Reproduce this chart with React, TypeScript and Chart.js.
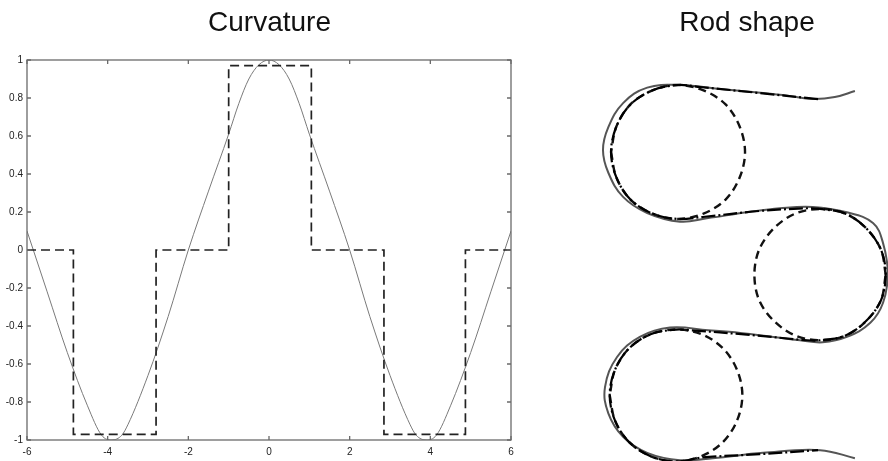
import React, { useEffect, useRef } from "react";
import { Chart, registerables } from "chart.js";

Chart.register(...registerables);

// ---------- Curvature panel ----------
const curvatureX = [-6, -5.5, -5, -4.5, -4.15, -3.9, -3.65, -3.5, -3, -2.5, -2, -1.5, -1, -0.75, -0.5, -0.25, 0, 0.25, 0.5, 0.75, 1, 1.5, 2, 2.5, 3, 3.5, 3.65, 3.9, 4.15, 4.5, 5, 5.5, 6];
const curvatureY = [0.1, -0.22, -0.54, -0.82, -0.975, -1.0, -0.975, -0.92, -0.66, -0.35, 0.0, 0.31, 0.61, 0.77, 0.9, 0.975, 1.0, 0.975, 0.9, 0.77, 0.61, 0.31, 0.0, -0.35, -0.66, -0.92, -0.975, -1.0, -0.975, -0.82, -0.54, -0.22, 0.1];

const stepEdges = [-6, -4.85, -2.8, -1.0, 1.05, 2.85, 4.87, 6];
const stepLevels = [0, -0.97, 0, 0.97, 0, -0.97, 0, 0];

const xTickValues = [-6, -4, -2, 0, 2, 4, 6];
const yTickValues = [-1, -0.8, -0.6, -0.4, -0.2, 0, 0.2, 0.4, 0.6, 0.8, 1];

// ---------- Rod shape panel (units: loop radius, origin at first loop centre) ----------
const rodExact: [number, number][] = [
  [2.64, 0.91], [2.34, 0.82], [2.01, 0.79], [1.64, 0.84], [1.27, 0.88], [0.63, 0.94], [0.03, 1.0],
  [-0.46, 0.96], [-0.82, 0.73], [-1.04, 0.37], [-1.12, 0.03], [-1.04, -0.31], [-0.82, -0.67],
  [-0.46, -0.91], [0.03, -1.04], [0.43, -0.99], [1.03, -0.9], [1.52, -0.84], [2.01, -0.82],
  [2.52, -0.9], [2.91, -1.06], [3.06, -1.36], [3.13, -1.81], [3.06, -2.25], [2.87, -2.55],
  [2.52, -2.76], [2.16, -2.84], [1.82, -2.81], [1.42, -2.76], [0.93, -2.7], [0.45, -2.66],
  [-0.12, -2.62], [-0.57, -2.76], [-0.91, -3.06], [-1.09, -3.51], [-1.04, -3.9], [-0.82, -4.25],
  [-0.46, -4.49], [0.03, -4.6], [0.52, -4.57], [1.27, -4.49], [2.12, -4.45], [2.64, -4.57],
];

const rodApprox: [number, number][] = [
  [2.09, 0.79], [1.22, 0.88], [0.33, 0.97], [0, 1], [-0.38, 0.92], [-0.71, 0.71], [-0.92, 0.38],
  [-1, 0], [-0.92, -0.38], [-0.71, -0.71], [-0.38, -0.92], [0, -1], [0.37, -0.97], [1.22, -0.88],
  [1.93, -0.84], [2.12, -0.85], [2.5, -0.92], [2.81, -1.14], [3.03, -1.46], [3.1, -1.83],
  [3.03, -2.21], [2.81, -2.52], [2.5, -2.74], [2.12, -2.81], [1.93, -2.81], [1.07, -2.73],
  [0.18, -2.66], [-0.03, -2.65], [-0.41, -2.72], [-0.73, -2.93], [-0.94, -3.25], [-1.02, -3.63],
  [-0.94, -4.01], [-0.73, -4.33], [-0.41, -4.54], [-0.03, -4.62], [0.35, -4.56], [1.22, -4.51],
  [2.09, -4.45],
];

const loop1: [number, number][] = [
  [-1, 0], [-0.92, -0.38], [-0.71, -0.71], [-0.38, -0.92], [0, -1], [0.38, -0.92], [0.71, -0.71],
  [0.92, -0.38], [1, 0], [0.92, 0.38], [0.71, 0.71], [0.38, 0.92], [0, 1], [-0.38, 0.92],
  [-0.71, 0.71], [-0.92, 0.38], [-1, 0],
];
const loop2: [number, number][] = [
  [3.1, -1.83], [3.03, -1.46], [2.81, -1.14], [2.5, -0.92], [2.12, -0.85], [1.75, -0.92],
  [1.43, -1.14], [1.21, -1.46], [1.14, -1.83], [1.21, -2.21], [1.43, -2.52], [1.75, -2.74],
  [2.12, -2.81], [2.5, -2.74], [2.81, -2.52], [3.03, -2.21], [3.1, -1.83],
];
const loop3: [number, number][] = [
  [-1.02, -3.63], [-0.94, -4.01], [-0.73, -4.33], [-0.41, -4.54], [-0.03, -4.62], [0.35, -4.54],
  [0.67, -4.33], [0.88, -4.01], [0.96, -3.63], [0.88, -3.25], [0.67, -2.93], [0.35, -2.72],
  [-0.03, -2.65], [-0.41, -2.72], [-0.73, -2.93], [-0.94, -3.25], [-1.02, -3.63],
];

const FONT = "'Liberation Sans', Arial, Helvetica, sans-serif";

const toPts = (arr: [number, number][]) => arr.map(([x, y]) => ({ x, y }));

const matlabBox = {
  id: "matlabBox",
  afterDatasetsDraw(chart: any) {
    const { ctx, chartArea: a, scales } = chart;
    ctx.save();
    ctx.strokeStyle = "#6a6a6a";
    ctx.lineWidth = 1.3;
    ctx.strokeRect(a.left, a.top, a.right - a.left, a.bottom - a.top);
    ctx.beginPath();
    scales.x.ticks.forEach((t: any) => {
      const p = scales.x.getPixelForValue(t.value);
      ctx.moveTo(p, a.bottom);
      ctx.lineTo(p, a.bottom - 4);
      ctx.moveTo(p, a.top);
      ctx.lineTo(p, a.top + 4);
    });
    scales.y.ticks.forEach((t: any) => {
      const p = scales.y.getPixelForValue(t.value);
      ctx.moveTo(a.left, p);
      ctx.lineTo(a.left + 4, p);
      ctx.moveTo(a.right, p);
      ctx.lineTo(a.right - 4, p);
    });
    ctx.stroke();
    ctx.restore();
  },
};

export default function App() {
  const leftRef = useRef<HTMLCanvasElement>(null);
  const rightRef = useRef<HTMLCanvasElement>(null);

  useEffect(() => {
    const tickFont = { family: FONT, size: 10 };
    const titleFont = { family: FONT, size: 28, weight: "normal", lineHeight: 1.2 };
    const left = new Chart(leftRef.current!, {
      type: "scatter",
      data: {
        datasets: [
          {
            data: stepEdges.map((x, i) => ({ x, y: stepLevels[i] })),
            showLine: true,
            stepped: "before",
            borderColor: "#222",
            borderWidth: 1.7,
            borderDash: [9, 5],
            pointRadius: 0,
          },
          {
            data: curvatureX.map((x, i) => ({ x, y: curvatureY[i] })),
            showLine: true,
            cubicInterpolationMode: "monotone",
            borderColor: "#7a7a7a",
            borderWidth: 1,
            pointRadius: 0,
          },
        ],
      } as any,
      options: {
        animation: false,
        responsive: false,
        devicePixelRatio: 1,
        events: [],
        layout: { padding: 0 },
        plugins: {
          legend: { display: false },
          tooltip: { enabled: false },
          title: {
            display: true,
            text: "Curvature",
            color: "#111",
            font: titleFont,
            padding: { top: 6, bottom: 20.4 },
          },
        },
        scales: {
          x: {
            type: "linear",
            min: -6,
            max: 6,
            grid: { display: false, drawTicks: false },
            border: { display: false },
            afterBuildTicks: (s: any) => {
              s.ticks = xTickValues.map((v) => ({ value: v }));
            },
            afterFit: (s: any) => {
              s.height = 21;
              s.paddingLeft = 0;
              s.paddingRight = 0;
            },
            ticks: { color: "#222", font: tickFont, padding: 6, maxRotation: 0, callback: (v: any) => String(v) },
          },
          y: {
            type: "linear",
            position: "left",
            min: -1,
            max: 1,
            grid: { display: false, drawTicks: false },
            border: { display: false },
            afterBuildTicks: (s: any) => {
              s.ticks = yTickValues.map((v) => ({ value: v }));
            },
            afterFit: (s: any) => {
              s.width = 27;
              s.paddingTop = 0;
              s.paddingBottom = 0;
            },
            ticks: { color: "#222", font: tickFont, padding: 4, callback: (v: any) => String(v) },
          },
          yRight: {
            type: "linear",
            position: "right",
            min: -1,
            max: 1,
            grid: { display: false, drawTicks: false },
            border: { display: false },
            ticks: { display: false },
            afterFit: (s: any) => {
              s.width = 28;
              s.paddingTop = 0;
              s.paddingBottom = 0;
            },
          },
        },
      } as any,
      plugins: [matlabBox],
    });

    const right = new Chart(rightRef.current!, {
      type: "scatter",
      data: {
        datasets: [
          {
            data: toPts(rodApprox),
            showLine: true,
            tension: 0.34,
            borderColor: "#000",
            borderWidth: 2.2,
            borderDash: [14, 3, 2, 3],
            pointRadius: 0,
            clip: false,
          },
          {
            data: toPts(loop1),
            showLine: true,
            tension: 0.34,
            borderColor: "#111",
            borderWidth: 2.4,
            borderDash: [8, 5],
            pointRadius: 0,
            clip: false,
          },
          {
            data: toPts(loop2),
            showLine: true,
            tension: 0.34,
            borderColor: "#111",
            borderWidth: 2.4,
            borderDash: [8, 5],
            pointRadius: 0,
            clip: false,
          },
          {
            data: toPts(loop3),
            showLine: true,
            tension: 0.34,
            borderColor: "#111",
            borderWidth: 2.4,
            borderDash: [8, 5],
            pointRadius: 0,
            clip: false,
          },
          {
            data: toPts(rodExact),
            showLine: true,
            tension: 0.4,
            borderColor: "#555",
            borderWidth: 2,
            pointRadius: 0,
            clip: false,
          },
        ],
      } as any,
      options: {
        animation: false,
        responsive: false,
        devicePixelRatio: 1,
        events: [],
        layout: { padding: { left: 46, right: 0, top: 0, bottom: 0 } },
        plugins: {
          legend: { display: false },
          tooltip: { enabled: false },
          title: {
            display: true,
            text: "Rod shape",
            color: "#111",
            font: titleFont,
            padding: { top: 6, bottom: 20.4 },
          },
        },
        scales: {
          x: { type: "linear", display: false, min: -1.075, max: 3.134 },
          y: { type: "linear", display: false, min: -4.612, max: 1.373 },
        },
      } as any,
    });

    return () => {
      left.destroy();
      right.destroy();
    };
  }, []);

  return (
    <div style={{ position: "absolute", left: 0, top: 0, width: 888, height: 461, background: "#fff", overflow: "hidden" }}>
      <canvas ref={leftRef} width={539} height={461} style={{ position: "absolute", left: 0, top: 0, width: 539, height: 461 }} />
      <canvas ref={rightRef} width={328} height={461} style={{ position: "absolute", left: 560, top: 0, width: 328, height: 461 }} />
    </div>
  );
}
